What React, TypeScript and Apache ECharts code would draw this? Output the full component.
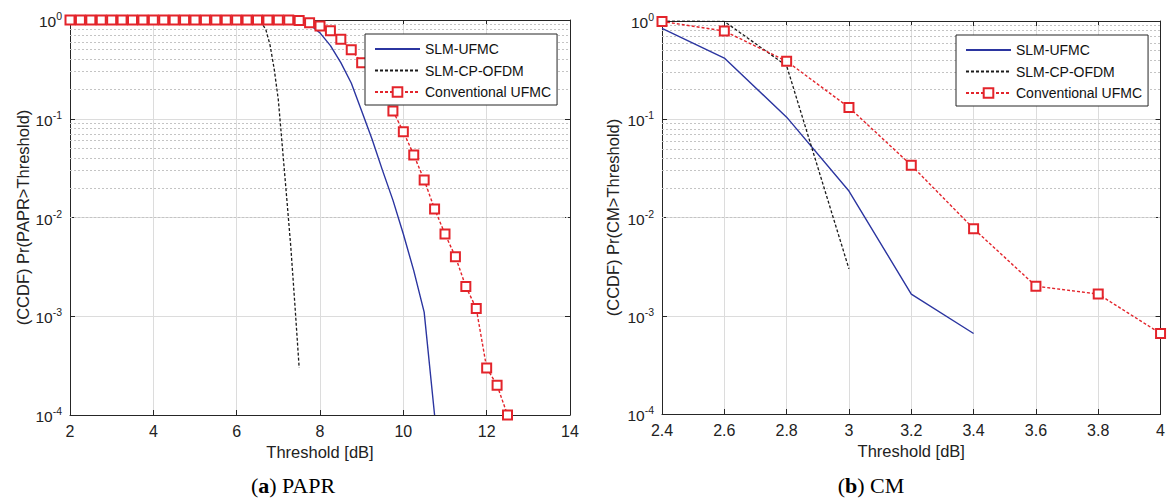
import React, { useEffect, useRef } from "react";
import * as echarts from "echarts";

const seriesNames = ["SLM-UFMC", "SLM-CP-OFDM", "Conventional UFMC"];

// (a) PAPR
const paprBlueX = [2, 2.5, 3, 3.5, 4, 4.5, 5, 5.5, 6, 6.5, 7, 7.25, 7.5, 7.75, 8, 8.25, 8.5, 8.75, 9, 9.25, 9.5, 9.75, 10, 10.25, 10.5, 10.75];
const paprBlueY = [1, 1, 1, 1, 1, 1, 1, 1, 1, 1, 1, 0.995, 0.98, 0.9, 0.74, 0.55, 0.37, 0.23, 0.12, 0.062, 0.03, 0.015, 0.0068, 0.0029, 0.0011, 0.0001];
const paprBlackX = [2, 3, 4, 5, 6, 6.25, 6.5, 6.6, 6.7, 6.8, 6.9, 7.0, 7.1, 7.2, 7.3, 7.4, 7.5];
const paprBlackY = [1, 1, 1, 1, 1, 0.998, 0.98, 0.93, 0.8, 0.56, 0.32, 0.155, 0.05, 0.016, 0.005, 0.00126, 0.0003];
const paprRedX = [2, 2.25, 2.5, 2.75, 3, 3.25, 3.5, 3.75, 4, 4.25, 4.5, 4.75, 5, 5.25, 5.5, 5.75, 6, 6.25, 6.5, 6.75, 7, 7.25, 7.5, 7.75, 8, 8.25, 8.5, 8.75, 9, 9.25, 9.5, 9.75, 10, 10.25, 10.5, 10.75, 11, 11.25, 11.5, 11.75, 12, 12.25, 12.5];
const paprRedY = [1, 1, 1, 1, 1, 1, 1, 1, 1, 1, 1, 1, 1, 1, 1, 1, 1, 1, 1, 1, 1, 1, 0.99, 0.94, 0.87, 0.78, 0.64, 0.5, 0.37, 0.26, 0.18, 0.12, 0.074, 0.043, 0.024, 0.0122, 0.0068, 0.004, 0.002, 0.0012, 0.0003, 0.0002, 0.0001];
const paprXTicks = { min: 2, max: 14, interval: 2 };

// (b) CM
const cmBlueX = [2.4, 2.6, 2.8, 3.0, 3.2, 3.4];
const cmBlueY = [0.84, 0.42, 0.105, 0.0186, 0.00166, 0.00066];
const cmBlackX = [2.4, 2.6, 2.8, 3.0];
const cmBlackY = [1.0, 0.99, 0.35, 0.003];
const cmRedX = [2.4, 2.6, 2.8, 3.0, 3.2, 3.4, 3.6, 3.8, 4.0];
const cmRedY = [0.99, 0.79, 0.39, 0.132, 0.034, 0.0077, 0.002, 0.00166, 0.00066];
const cmXTicks = { min: 2.4, max: 4, interval: 0.2 };

const yRange = { min: 0.0001, max: 1 };
const minorMultipliers = [2, 3, 4, 5, 6, 7, 8, 9];
const decadeExponents = [-4, -3, -2, -1];

const FONT = "'Liberation Sans', Arial, sans-serif";
const SERIF = "'Liberation Serif', 'Times New Roman', serif";
const AXIS = "#262626";
const BLUE = "#2b35a0";
const BLACK = "#1a1a1a";
const RED = "#e3242b";

const zip = (xs: number[], ys: number[]) => xs.map((x, i) => [x, ys[i]]);

const minorLines = decadeExponents.flatMap((e) =>
  minorMultipliers.map((m) => ({ yAxis: m * Math.pow(10, e) }))
);

function xAxes(gridIndex: number, t: { min: number; max: number; interval: number }, decimals: number) {
  const fmt = (v: number) => String(+v.toFixed(decimals));
  return [
    {
      gridIndex,
      type: "value",
      min: t.min,
      max: t.max,
      interval: t.interval,
      position: "bottom",
      axisLine: { show: true, onZero: false, lineStyle: { color: AXIS, width: 1 } },
      axisTick: { show: true, inside: true, length: 5, lineStyle: { color: AXIS } },
      axisLabel: { fontSize: 16, color: "#222", fontFamily: FONT, margin: 8, formatter: fmt },
      splitLine: { show: true, lineStyle: { color: "#dcdcdc", width: 1 } },
      name: "Threshold [dB]",
      nameLocation: "middle",
      nameGap: 23,
      nameTextStyle: { fontSize: 16.5, color: "#222", fontFamily: FONT },
    },
    {
      gridIndex,
      type: "value",
      min: t.min,
      max: t.max,
      interval: t.interval,
      position: "top",
      axisLine: { show: true, onZero: false, lineStyle: { color: AXIS, width: 1 } },
      axisTick: { show: true, inside: true, length: 5, lineStyle: { color: AXIS } },
      axisLabel: { show: false },
      splitLine: { show: false },
    },
  ];
}

function yAxes(gridIndex: number, name: string, nameGap: number) {
  return [
    {
      gridIndex,
      type: "log",
      logBase: 10,
      min: yRange.min,
      max: yRange.max,
      position: "left",
      axisLine: { show: true, onZero: false, lineStyle: { color: AXIS, width: 1 } },
      axisTick: { show: true, inside: true, length: 5, lineStyle: { color: AXIS } },
      axisLabel: {
        fontFamily: FONT,
        color: "#222",
        margin: 8,
        formatter: (v: number) => `{b|10}{s|${Math.round(Math.log10(v))}}`,
        rich: {
          b: { fontSize: 15.5, fontFamily: FONT, color: "#222", lineHeight: 19, verticalAlign: "bottom" },
          s: { fontSize: 10.5, fontFamily: FONT, color: "#222", lineHeight: 19, verticalAlign: "top" },
        },
      },
      splitLine: { show: true, lineStyle: { color: "#dcdcdc", width: 1 } },
      name,
      nameLocation: "middle",
      nameGap,
      nameTextStyle: { fontSize: 16.5, color: "#222", fontFamily: FONT },
    },
    {
      gridIndex,
      type: "log",
      logBase: 10,
      min: yRange.min,
      max: yRange.max,
      position: "right",
      axisLine: { show: true, onZero: false, lineStyle: { color: AXIS, width: 1 } },
      axisTick: { show: true, inside: true, length: 5, lineStyle: { color: AXIS } },
      axisLabel: { show: false },
      splitLine: { show: false },
    },
  ];
}

function seriesFor(xi: number, yi: number, data: { bx: number[]; by: number[]; kx: number[]; ky: number[]; rx: number[]; ry: number[] }) {
  return [
    {
      name: seriesNames[0],
      type: "line",
      xAxisIndex: xi,
      yAxisIndex: yi,
      data: zip(data.bx, data.by),
      symbol: "none",
      showSymbol: false,
      lineStyle: { color: BLUE, width: 1.4, type: "solid" },
      itemStyle: { color: BLUE },
      z: 3,
      markLine: {
        silent: true,
        z: 1,
        symbol: ["none", "none"],
        label: { show: false },
        lineStyle: { color: "#c4c4c4", type: [2, 2], width: 1 },
        emphasis: { disabled: true },
        data: minorLines,
      },
    },
    {
      name: seriesNames[1],
      type: "line",
      xAxisIndex: xi,
      yAxisIndex: yi,
      data: zip(data.kx, data.ky),
      symbol: "none",
      showSymbol: false,
      lineStyle: { color: BLACK, width: 1.3, type: [3, 2] },
      itemStyle: { color: BLACK },
      z: 3,
    },
    {
      name: seriesNames[2],
      type: "line",
      xAxisIndex: xi,
      yAxisIndex: yi,
      data: zip(data.rx, data.ry),
      symbol: "emptyRect",
      symbolSize: 9,
      showSymbol: true,
      lineStyle: { color: RED, width: 1.4, type: [3, 2] },
      itemStyle: { color: RED, borderColor: RED, borderWidth: 1.4 },
      z: 3,
    },
  ];
}

function legendAt(left: number, top: number) {
  return {
    left,
    top,
    orient: "vertical",
    data: [
      { name: seriesNames[0], itemStyle: { opacity: 0 } },
      { name: seriesNames[1], itemStyle: { opacity: 0 } },
      { name: seriesNames[2] },
    ],
    itemWidth: 45,
    itemHeight: 12,
    itemGap: 7.5,
    backgroundColor: "#fff",
    borderColor: AXIS,
    borderWidth: 1,
    borderRadius: 0,
    padding: [8, 6, 6, 9],
    selectedMode: false,
    textStyle: { fontSize: 14, color: "#111", fontFamily: FONT },
    z: 10,
  };
}

export default function App() {
  const ref = useRef<HTMLDivElement>(null);
  useEffect(() => {
    document.body.style.margin = "0";
    const chart = echarts.init(ref.current!, null, { renderer: "svg" });
    chart.setOption({
      animation: false,
      backgroundColor: "#fff",
      grid: [
        { left: 70, top: 20, width: 500, height: 395 },
        { left: 662, top: 21, width: 500, height: 393 },
      ],
      xAxis: [...xAxes(0, paprXTicks, 0), ...xAxes(1, cmXTicks, 1)],
      yAxis: [...yAxes(0, "(CCDF) Pr(PAPR>Threshold)", 35), ...yAxes(1, "(CCDF) Pr(CM>Threshold)", 41)],
      legend: [legendAt(365, 34), legendAt(956, 35)],
      series: [
        ...seriesFor(0, 0, { bx: paprBlueX, by: paprBlueY, kx: paprBlackX, ky: paprBlackY, rx: paprRedX, ry: paprRedY }),
        ...seriesFor(2, 2, { bx: cmBlueX, by: cmBlueY, kx: cmBlackX, ky: cmBlackY, rx: cmRedX, ry: cmRedY }),
      ],
      graphic: [
        {
          type: "text",
          x: 293,
          y: 485,
          style: {
            text: "({a|a}) PAPR",
            fontSize: 22,
            fontFamily: SERIF,
            fill: "#000",
            align: "center",
            verticalAlign: "middle",
            rich: { a: { fontSize: 22, fontFamily: SERIF, fontWeight: "bold", fill: "#000" } },
          },
        },
        {
          type: "text",
          x: 871,
          y: 485,
          style: {
            text: "({a|b}) CM",
            fontSize: 22,
            fontFamily: SERIF,
            fill: "#000",
            align: "center",
            verticalAlign: "middle",
            rich: { a: { fontSize: 22, fontFamily: SERIF, fontWeight: "bold", fill: "#000" } },
          },
        },
      ],
    });
    return () => chart.dispose();
  }, []);
  return <div ref={ref} style={{ width: 1168, height: 499, background: "#fff" }} />;
}
